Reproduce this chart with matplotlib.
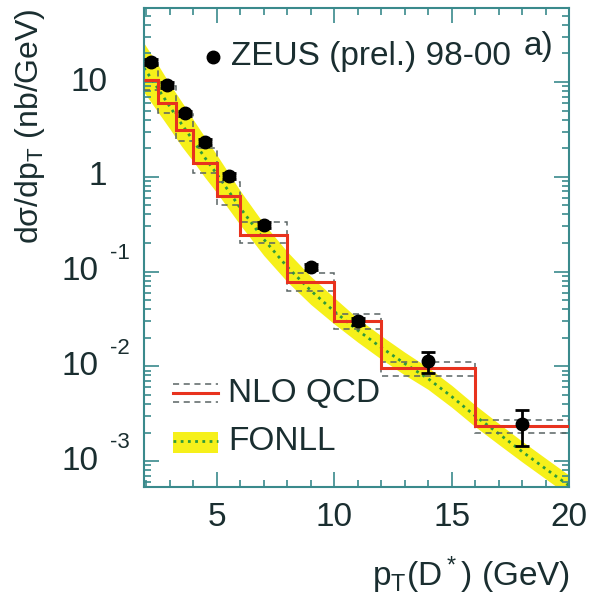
import numpy as np
import matplotlib
matplotlib.use("Agg")
import matplotlib.pyplot as plt
import matplotlib.transforms as mtransforms
from matplotlib.patches import Rectangle
from matplotlib.ticker import FixedLocator, NullFormatter

plt.rcParams['font.family'] = ['Liberation Sans', 'DejaVu Sans']
plt.rcParams['mathtext.default'] = 'regular'

# ZEUS D* photoproduction data points
pt_data = [2.2, 2.875, 3.625, 4.5, 5.5, 7.0, 9.0, 11.0, 14.0, 18.0]
xs_data = [16.3, 9.3, 4.7, 2.33, 1.02, 0.31, 0.111, 0.030, 0.0113, 0.00245]
xs_err = [1.2, 0.6, 0.3, 0.15, 0.07, 0.02, 0.008, 0.0025, 0.0028, 0.0010]

# NLO QCD prediction per pT bin (central, upper, lower)
pt_edges = [1.9, 2.5, 3.25, 4.0, 5.0, 6.0, 8.0, 10.0, 12.0, 16.0, 20.0]
nlo = [10.5, 6.0, 3.1, 1.40, 0.63, 0.243, 0.077, 0.030, 0.0096, 0.00234]
nlo_hi = [16.0, 9.0, 4.6, 2.0, 0.88, 0.33, 0.096, 0.036, 0.0112, 0.0027]
nlo_lo = [8.2, 4.7, 2.4, 1.1, 0.50, 0.20, 0.063, 0.0246, 0.0078, 0.00197]

# FONLL prediction with its uncertainty band
pt_fonll = [1.9, 2.5, 3.0, 3.5, 4.0, 4.5, 5.0, 6.0, 7.0, 8.0, 9.0, 10.0,
            11.0, 12.0, 13.0, 14.0, 15.0, 16.0, 17.0, 18.0, 19.0, 20.0]
fonll = [14.1, 8.5, 5.5, 3.6, 2.4, 1.58, 1.07, 0.468, 0.219, 0.112, 0.063, 0.038,
         0.024, 0.0158, 0.0107, 0.0074, 0.0048, 0.0030, 0.00195, 0.00126, 0.00083, 0.00055]
fonll_hi = [25.7, 15.1, 9.5, 6.2, 4.0, 2.6, 1.7, 0.71, 0.32, 0.162, 0.089, 0.053,
            0.032, 0.0210, 0.0141, 0.0097, 0.0063, 0.0039, 0.0025, 0.00162, 0.00107, 0.00071]
fonll_lo = [7.8, 4.8, 3.2, 2.1, 1.45, 0.98, 0.68, 0.31, 0.148, 0.078, 0.045, 0.028,
            0.0180, 0.0119, 0.0081, 0.0057, 0.0037, 0.00231, 0.00150, 0.00098, 0.00065, 0.00043]

decades = [10, 1, 0.1, 0.01, 0.001]
exponents = ['', '', '-1', '-2', '-3']
base_text = ['10', '1', '10', '10', '10']

txt_col = '#1a2e30'
frame_col = '#3a8a8c'
red = '#e8321e'
yellow = '#f6f01a'
green = '#2f9a3a'
dash_col = '#5a6464'
fs = 24

fig = plt.figure(figsize=(5.94, 5.99), dpi=100)
ax = fig.add_axes([144 / 594, 1 - 487 / 599, 425 / 594, 479 / 599])
ax.set_yscale('log')
ax.set_xlim(1.9, 20)
ax.set_ylim(5.32e-4, 60.4)

# FONLL band and central curve
ax.fill_between(pt_fonll, fonll_lo, fonll_hi, color=yellow, lw=0, zorder=1)
ax.plot(pt_fonll, fonll, color=green, lw=2, linestyle=(0, (1, 1.6)), zorder=2)

# NLO histogram
ax.stairs(nlo_hi, pt_edges, baseline=None, color=dash_col, lw=1.1, linestyle=(0, (4, 3)), zorder=3)
ax.stairs(nlo_lo, pt_edges, baseline=None, color=dash_col, lw=1.1, linestyle=(0, (4, 3)), zorder=3)
ax.stairs(nlo, pt_edges, baseline=None, color=red, lw=2.2, zorder=4)

# data
ax.errorbar(pt_data, xs_data, yerr=xs_err, fmt='o', color='black', ms=9,
            elinewidth=2, capsize=5, capthick=2, zorder=5)

# axes styling
for s in ax.spines.values():
    s.set_color(frame_col)
    s.set_linewidth(1.5)
ax.xaxis.set_major_locator(FixedLocator([5, 10, 15, 20]))
ax.xaxis.set_minor_locator(FixedLocator(np.arange(2, 20)))
ax.tick_params(which='both', direction='in', top=True, right=True, color=frame_col, width=1.2)
ax.tick_params(which='major', length=11)
ax.tick_params(which='minor', length=5)
ax.tick_params(axis='x', labelsize=fs, labelcolor=txt_col, pad=11)
ax.yaxis.set_major_locator(FixedLocator(decades))
minors = [m * 10.0 ** e for e in range(-4, 2) for m in range(2, 10)]
ax.yaxis.set_minor_locator(FixedLocator(minors))
ax.yaxis.set_major_formatter(NullFormatter())
ax.yaxis.set_minor_formatter(NullFormatter())

# y tick labels, drawn as base plus raised exponent
trans = mtransforms.blended_transform_factory(ax.transAxes, ax.transData)
up = mtransforms.offset_copy(trans, fig=fig, x=0, y=13, units='points')
for val, base, ex in zip(decades, base_text, exponents):
    if ex:
        ax.text(-0.108, val, base, transform=trans, ha='right', va='center',
                fontsize=fs, color=txt_col, clip_on=False)
        ax.text(-0.080, val, ex, transform=up, ha='left', va='center',
                fontsize=16, color=txt_col, clip_on=False)
    else:
        ax.text(-0.086, val, base, transform=trans, ha='right', va='center',
                fontsize=fs, color=txt_col, clip_on=False)

# axis titles
fig.text(570 / 594, 1 - 575 / 599, r'p$_T$(D$^*$) (GeV)', ha='right', va='center',
         fontsize=fs, color=txt_col)
fig.text(30 / 594, 1 - 8 / 599, r'd$\sigma$/dp$_T$ (nb/GeV)', rotation=90,
         ha='center', va='top', fontsize=fs - 1, color=txt_col)

# legend entries
ax.plot([0.162], [0.898], 'o', color='black', ms=9, transform=ax.transAxes, clip_on=False)
ax.text(0.205, 0.898, 'ZEUS (prel.) 98-00', transform=ax.transAxes, ha='left', va='center',
        fontsize=fs, color=txt_col)
ax.text(0.929, 0.919, 'a)', transform=ax.transAxes, ha='center', va='center',
        fontsize=fs, color=txt_col)

ax.plot([0.068, 0.174], [0.215, 0.215], color=dash_col, lw=1.1, linestyle=(0, (4, 3)), transform=ax.transAxes)
ax.plot([0.068, 0.174], [0.177, 0.177], color=dash_col, lw=1.1, linestyle=(0, (4, 3)), transform=ax.transAxes)
ax.plot([0.068, 0.174], [0.196, 0.196], color=red, lw=2.2, transform=ax.transAxes)
ax.text(0.198, 0.196, 'NLO QCD', transform=ax.transAxes, ha='left', va='center',
        fontsize=fs, color=txt_col)

ax.add_patch(Rectangle((0.068, 0.071), 0.106, 0.044, transform=ax.transAxes,
                       color=yellow, lw=0))
ax.plot([0.068, 0.174], [0.096, 0.096], color=green, lw=2, linestyle=(0, (1, 1.6)), transform=ax.transAxes)
ax.text(0.198, 0.096, 'FONLL', transform=ax.transAxes, ha='left', va='center',
        fontsize=fs, color=txt_col)

fig.savefig('out.png', dpi=100, facecolor='white')
